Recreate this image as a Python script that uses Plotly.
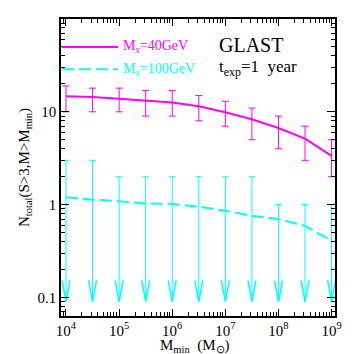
import plotly.graph_objects as go

# ---- data ----
m_min = [1e4, 3.162e4, 1e5, 3.162e5, 1e6, 3.162e6, 1e7, 3.162e7, 1e8, 3.162e8, 1e9]
n_40 = [14.7, 14.4, 13.8, 13.2, 12.6, 11.5, 9.9, 8.3, 6.7, 5.15, 3.35]
n_40_hi = [19, 18, 18, 17, 17, 15, 13, 11, 9, 7, 5]
n_40_lo = [10, 10, 10, 9, 9, 8, 7, 5, 4, 3, 2]
n_100 = [1.2, 1.13, 1.09, 1.03, 1.02, 0.95, 0.86, 0.76, 0.70, 0.59, 0.41]
n_100_ul = [3, 3, 2, 2, 2, 2, 2, 2, 1, 1, 1]
arrow_tip = 0.09
x_tickvals = [1e4, 1e5, 1e6, 1e7, 1e8, 1e9]
x_ticktext = ["10<sup>4</sup>", "10<sup>5</sup>", "10<sup>6</sup>", "10<sup>7</sup>", "10<sup>8</sup>", "10<sup>9</sup>"]
y_tickvals = [0.1, 1, 10]
y_ticktext = ["0.1", "1", "10"]

MAG = "#FF00FF"
CYA = "#00FFFF"
FONT = "Liberation Serif"

fig = go.Figure()

# cyan upper-limit arrows (shafts, caps, heads)
shaft_x, shaft_y, cap_x, cap_y, head_x, head_y = [], [], [], [], [], []
cap_f = 10 ** 0.055
head_f = 10 ** 0.075
head_top = arrow_tip * 10 ** 0.23
for x, ul in zip(m_min, n_100_ul):
    shaft_x += [x, x, None]
    shaft_y += [ul, arrow_tip, None]
    cap_x += [x / cap_f, x * cap_f, None]
    cap_y += [ul, ul, None]
    head_x += [x / head_f, x, x * head_f, None]
    head_y += [head_top, arrow_tip, head_top, None]

fig.add_trace(go.Scatter(x=shaft_x, y=shaft_y, mode="lines", line=dict(color=CYA, width=1), hoverinfo="skip"))
fig.add_trace(go.Scatter(x=cap_x, y=cap_y, mode="lines", line=dict(color=CYA, width=1), hoverinfo="skip"))
fig.add_trace(go.Scatter(x=head_x, y=head_y, mode="lines", line=dict(color=CYA, width=1.5), hoverinfo="skip"))

# cyan dashed curve
fig.add_trace(go.Scatter(x=m_min, y=n_100, mode="lines",
                         line=dict(color=CYA, width=2, dash="12px,5px")))

# magenta with error bars
err_plus = [h - v for h, v in zip(n_40_hi, n_40)]
err_minus = [v - l for l, v in zip(n_40_lo, n_40)]
fig.add_trace(go.Scatter(x=m_min, y=n_40, mode="lines",
                         line=dict(color=MAG, width=2),
                         error_y=dict(type="data", array=err_plus, arrayminus=err_minus,
                                      symmetric=False, color=MAG, thickness=1, width=3.5)))

axis_common = dict(
    type="log", showline=True, linecolor="black", linewidth=1.5, mirror="ticks",
    ticks="inside", tickcolor="black", tickwidth=1, showgrid=False, zeroline=False,
    minor=dict(ticks="inside", ticklen=4, tickcolor="black", tickwidth=1, dtick="D1", showgrid=False),
)

# page body has an 8px margin; size the figure so the plot frame lands where the reference has it
fig.update_layout(
    width=346, height=346,
    margin=dict(l=53, r=19, t=11, b=38),
    paper_bgcolor="white", plot_bgcolor="white",
    showlegend=False,
    font=dict(family=FONT, color="black"),
    xaxis=dict(range=[3.906, 9.064], tickvals=x_tickvals, ticktext=x_ticktext, ticklen=7,
               tickfont=dict(family=FONT, size=15, color="black"),
               automargin=False, **axis_common),
    yaxis=dict(range=[-1.2, 2.0], tickvals=y_tickvals, ticktext=y_ticktext, ticklen=8,
               tickfont=dict(family=FONT, size=15, color="black"),
               title=dict(text="N<sub>total</sub>(S>3,M>M<sub>min</sub>)", font=dict(family=FONT, size=15), standoff=4),
               automargin=False, **axis_common),
)

# x-axis title
fig.add_annotation(xref="paper", yref="paper", x=0.49, y=-0.101, xanchor="center", yanchor="middle",
                   text="M<sub>min</sub>  (M<sub>⊙</sub>)", showarrow=False,
                   font=dict(family=FONT, size=15, color="black"))

# legend drawn by hand
fig.add_shape(type="line", xref="paper", yref="paper", x0=0.004, x1=0.208, y0=0.906, y1=0.906,
              line=dict(color=MAG, width=2))
fig.add_shape(type="line", xref="paper", yref="paper", x0=0.004, x1=0.208, y0=0.831, y1=0.831,
              line=dict(color=CYA, width=2, dash="12px,5px"))
fig.add_annotation(xref="paper", yref="paper", x=0.218, y=0.906, xanchor="left", yanchor="middle",
                   text="M<sub><i>x</i></sub>=40GeV", showarrow=False, font=dict(family=FONT, size=14, color=MAG))
fig.add_annotation(xref="paper", yref="paper", x=0.218, y=0.831, xanchor="left", yanchor="middle",
                   text="M<sub><i>x</i></sub>=100GeV", showarrow=False, font=dict(family=FONT, size=14, color=CYA))
fig.add_annotation(xref="paper", yref="paper", x=0.57, y=0.913, xanchor="left", yanchor="middle",
                   text="GLAST", showarrow=False, font=dict(family=FONT, size=20, color="black"))
fig.add_annotation(xref="paper", yref="paper", x=0.57, y=0.836, xanchor="left", yanchor="middle",
                   text="t<sub>exp</sub>=1  year", showarrow=False, font=dict(family=FONT, size=17, color="black"))

fig.write_html("out.html")
